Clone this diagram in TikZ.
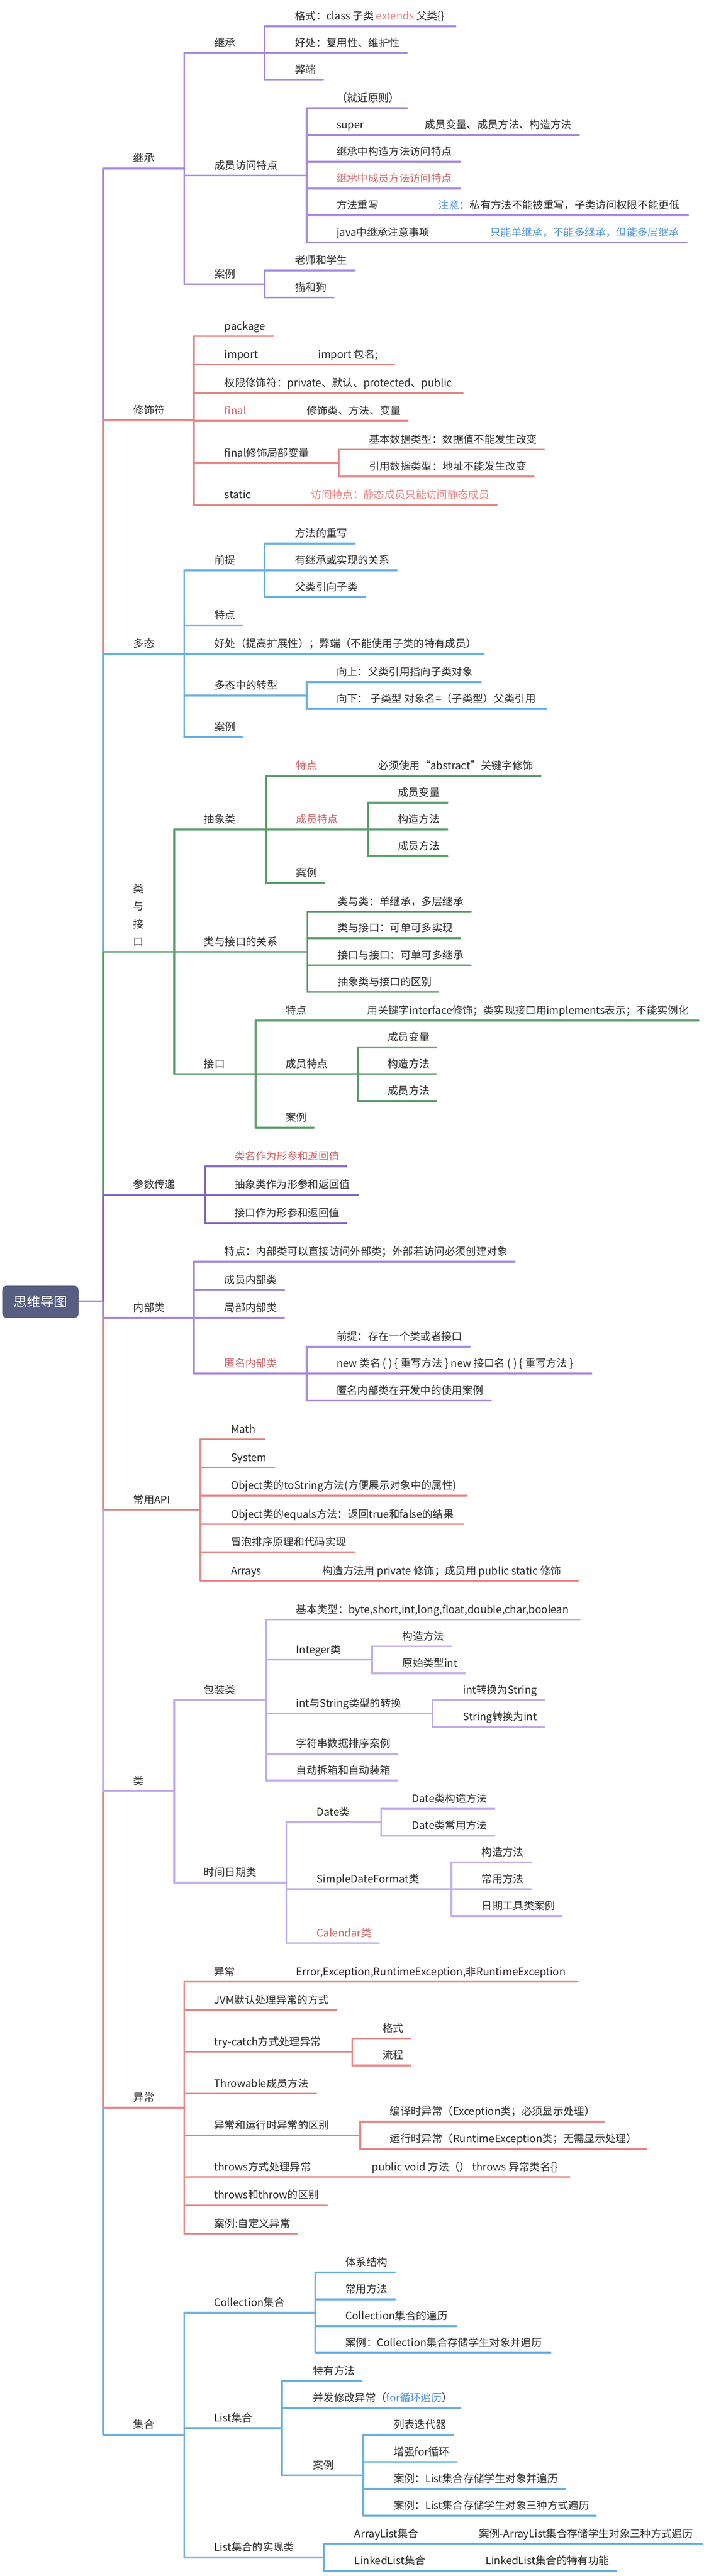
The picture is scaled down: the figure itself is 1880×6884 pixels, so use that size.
\documentclass[tikz,border=0pt]{standalone}
\usepackage{fontspec}
\setmainfont{Noto Sans CJK SC}
\definecolor{cpur}{HTML}{A68AE0}
\definecolor{csal}{HTML}{E68886}
\definecolor{cblu}{HTML}{6AB0E6}
\definecolor{cgrn}{HTML}{5E9E6C}
\definecolor{cpurtwo}{HTML}{8569C2}
\definecolor{clav}{HTML}{C3AEEA}
\definecolor{croot}{HTML}{575E82}
\definecolor{tred}{HTML}{CC6466}
\definecolor{tpink}{HTML}{E4807E}
\definecolor{tblu}{HTML}{4D92D2}
\definecolor{ttxt}{HTML}{2A2A2A}
\newcommand\MMnode[7]{\draw[ln,#2] (#3,#5) -- (#4,#5); \node[txt] (#1) at (#6,#5-17) {#7};}
\newcommand\MMbus[4]{\draw[ln,#1] (#2,#3) -- (#2,#4);}
\newcommand\MMtxt[4]{\node[txt] (#1) at (#2,#3-17) {#4};}
\begin{document}
\begin{tikzpicture}[x=1pt,y=-1pt,
  ln/.style={line width=5pt,line cap=round},
  trunk/.style={line width=5.5pt},
  txt/.style={anchor=base west,inner sep=0pt,text=ttxt,font=\fontsize{28pt}{34pt}\selectfont},
  vtxt/.style={anchor=center,inner sep=0pt,text=ttxt,font=\fontsize{28pt}{34pt}\selectfont}]
\fill[white] (0,0) rectangle (1880,6884);
\useasboundingbox (0,0) rectangle (1880,6884);

% trunk
\coordinate (t0) at (276,3478);
\draw[trunk,cpur] (276,450.5) -- (276,1123.7);
\draw[trunk,csal] (276,1123.7) -- (276,1747);
\draw[trunk,cblu] (276,1747) -- (276,2543.4);
\draw[trunk,cgrn] (276,2543.4) -- (276,3192.7);
\draw[trunk,cpurtwo] (276,3192.7) -- (t0);
\draw[trunk,cpur] (t0) -- (276,3521.7);
\draw[trunk,csal] (276,3521.7) -- (276,4034.6);
\draw[trunk,clav] (276,4034.6) -- (276,4787.1);
\draw[trunk,csal] (276,4787.1) -- (276,5632.2);
\draw[trunk,cblu] (276,5632.2) -- (276,6507);

% root
\node[fill=croot,rounded corners=12pt,minimum width=204pt,minimum height=86pt,inner sep=0pt,text=white,font=\fontsize{36pt}{40pt}\selectfont] (root) at (108,3479) {思维导图};
\draw[line width=6pt,cpur] (root.east |- t0) -- (t0);

% 继承
\MMbus{cpur}{492}{141.7}{759.4}
\MMnode{jc}{cpur}{276}{492}{450.5}{356}{继承}
\MMbus{cpur}{707}{70.3}{213.4}
\MMnode{jctwo}{cpur}{492}{707}{141.7}{573}{继承}
\MMnode{jca}{cpur}{707}{1217}{70.3}{788}{格式：class 子类 \textcolor{tpink}{extends} 父类\{\}}
\MMnode{jcb}{cpur}{707}{1087}{141.7}{788}{好处：复用性、维护性}
\MMnode{jcc}{cpur}{707}{863}{213.4}{788}{弊端}
\MMbus{cpur}{819}{289.3}{647.7}
\MMnode{cy}{cpur}{492}{819}{468.7}{573}{成员访问特点}
\MMnode{cya}{cpur}{819}{1087}{289.3}{899}{（就近原则）}
\MMnode{cyb}{cpur}{819}{1547}{360.7}{899}{super}
\MMtxt{cybx}{1135}{360.7}{成员变量、成员方法、构造方法}
\MMnode{cyc}{cpur}{819}{1229}{432.4}{899}{继承中构造方法访问特点}
\MMnode{cyd}{cpur}{819}{1229}{504.2}{899}{\textcolor{tred}{继承中成员方法访问特点}}
\MMnode{cye}{cpur}{819}{1838}{575.9}{899}{方法重写}
\MMtxt{cyex}{1171}{575.9}{\textcolor{tblu}{注意}：私有方法不能被重写，子类访问权限不能更低}
\MMnode{cyf}{cpur}{819}{1834}{647.7}{899}{java中继承注意事项}
\MMtxt{cyfx}{1310}{647.7}{\textcolor{tblu}{只能单继承，不能多继承，但能多层继承}}
\MMbus{cpur}{707}{723.1}{794.9}
\MMnode{al}{cpur}{492}{707}{759.4}{573}{案例}
\MMnode{ala}{cpur}{707}{948}{723.1}{788}{老师和学生}
\MMnode{alb}{cpur}{707}{892}{794.9}{788}{猫和狗}

% 修饰符
\MMbus{csal}{518}{898.5}{1349}
\MMnode{xs}{csal}{276}{518}{1123.7}{356}{修饰符}
\MMnode{xsa}{csal}{518}{731}{898.5}{600}{package}
\MMnode{xsb}{csal}{518}{1053}{973.9}{600}{import}
\MMtxt{xsbx}{850}{973.9}{import 包名;}
\MMnode{xsc}{csal}{518}{1236}{1050.1}{600}{权限修饰符：private、默认、protected、public}
\MMnode{xsd}{csal}{518}{1089}{1125.2}{600}{\textcolor{tred}{final}}
\MMtxt{xsdx}{819}{1125.2}{修饰类、方法、变量}
\MMbus{csal}{905}{1201.4}{1273.2}
\MMnode{xse}{csal}{518}{905}{1237.3}{600}{final修饰局部变量}
\MMnode{xsea}{csal}{905}{1454}{1201.4}{986}{基本数据类型：数据值不能发生改变}
\MMnode{xseb}{csal}{905}{1426}{1273.2}{986}{引用数据类型：地址不能发生改变}
\MMnode{xsf}{csal}{518}{1327}{1349}{600}{static}
\MMtxt{xsfx}{831}{1349}{\textcolor{tpink}{访问特点：静态成员只能访问静态成员}}

% 多态
\MMbus{cblu}{492}{1524}{1970}
\MMnode{dt}{cblu}{276}{492}{1747}{356}{多态}
\MMbus{cblu}{707}{1452.6}{1595.4}
\MMnode{dta}{cblu}{492}{707}{1524}{573}{前提}
\MMnode{dtaa}{cblu}{707}{948}{1452.6}{788}{方法的重写}
\MMnode{dtab}{cblu}{707}{1060}{1524}{788}{有继承或实现的关系}
\MMnode{dtac}{cblu}{707}{976}{1595.4}{788}{父类引向子类}
\MMnode{dtb}{cblu}{492}{647}{1671.5}{573}{特点}
\MMnode{dtc}{cblu}{492}{1292}{1747}{573}{好处（提高扩展性）；弊端（不能使用子类的特有成员）}
\MMbus{cblu}{819}{1822.8}{1894.2}
\MMnode{dtd}{cblu}{492}{819}{1858.7}{573}{多态中的转型}
\MMnode{dtda}{cblu}{819}{1285}{1822.8}{899}{向上：父类引用指向子类对象}
\MMnode{dtdb}{cblu}{819}{1460}{1894.2}{899}{向下： 子类型 对象名=（子类型）父类引用}
\MMnode{dte}{cblu}{492}{647}{1970}{573}{案例}

% 类与接口
\MMbus{cgrn}{465}{2216.8}{2869.8}
\draw[ln,cgrn] (276,2543.4) -- (465,2543.4);
\node[vtxt] (lyj1) at (370,2374) {类};
\node[vtxt] (lyj2) at (370,2422) {与};
\node[vtxt] (lyj3) at (370,2469) {接};
\node[vtxt] (lyj4) at (370,2517) {口};
\MMbus{cgrn}{711}{2073.6}{2359.9}
\MMnode{cx}{cgrn}{465}{711}{2216.8}{545}{抽象类}
\MMnode{cxa}{cgrn}{711}{1444}{2073.6}{791}{\textcolor{tred}{特点}}
\MMtxt{cxax}{1010}{2073.6}{必须使用“abstract”关键字修饰}
\MMbus{cgrn}{983}{2145.4}{2287.8}
\MMnode{cxb}{cgrn}{711}{983}{2216.8}{791}{\textcolor{tred}{成员特点}}
\MMnode{cxba}{cgrn}{983}{1195}{2145.4}{1063}{成员变量}
\MMnode{cxbb}{cgrn}{983}{1195}{2216.8}{1063}{构造方法}
\MMnode{cxbc}{cgrn}{983}{1195}{2287.8}{1063}{成员方法}
\MMnode{cxc}{cgrn}{711}{866}{2359.9}{791}{案例}
\MMbus{cgrn}{821}{2436.1}{2651}
\MMnode{gx}{cgrn}{465}{821}{2543.4}{545}{类与接口的关系}
\MMnode{gxa}{cgrn}{821}{1258}{2436.1}{902}{类与类：单继承，多层继承}
\MMnode{gxb}{cgrn}{821}{1230}{2507.5}{902}{类与接口：可单可多实现}
\MMnode{gxc}{cgrn}{821}{1258}{2579.3}{902}{接口与接口：可单可多继承}
\MMnode{gxd}{cgrn}{821}{1171}{2651}{902}{抽象类与接口的区别}
\MMbus{cgrn}{683}{2727.2}{3013.7}
\MMnode{jk}{cgrn}{465}{683}{2869.8}{545}{接口}
\MMnode{jka}{cgrn}{683}{1866}{2727.2}{763}{特点}
\MMtxt{jkax}{981}{2727.2}{用关键字interface修饰；类实现接口用implements表示；不能实例化}
\MMbus{cgrn}{956}{2798.6}{2941.9}
\MMnode{jkb}{cgrn}{683}{956}{2869.8}{763}{成员特点}
\MMnode{jkba}{cgrn}{956}{1165}{2798.6}{1036}{成员变量}
\MMnode{jkbb}{cgrn}{956}{1165}{2869.8}{1036}{构造方法}
\MMnode{jkbc}{cgrn}{956}{1165}{2941.9}{1036}{成员方法}
\MMnode{jkc}{cgrn}{683}{838}{3013.7}{763}{案例}

% 参数传递
\MMbus{cpurtwo}{548}{3117.3}{3268.5}
\MMnode{cs}{cpurtwo}{276}{548}{3192.7}{356}{参数传递}
\MMnode{csa}{cpurtwo}{548}{926}{3117.3}{627}{\textcolor{tred}{类名作为形参和返回值}}
\MMnode{csb}{cpurtwo}{548}{956}{3192.7}{627}{抽象类作为形参和返回值}
\MMnode{csc}{cpurtwo}{548}{926}{3268.5}{627}{接口作为形参和返回值}

% 内部类
\MMbus{cpur}{518}{3371.8}{3670.8}
\MMnode{nb}{cpur}{276}{518}{3522}{356}{内部类}
\MMnode{nba}{cpur}{518}{1375}{3371.8}{600}{特点：内部类可以直接访问外部类；外部若访问必须创建对象}
\MMnode{nbb}{cpur}{518}{759}{3447.8}{600}{成员内部类}
\MMnode{nbc}{cpur}{518}{759}{3522}{600}{局部内部类}
\MMbus{cpur}{819}{3599}{3742.6}
\MMnode{nbd}{cpur}{518}{819}{3670.8}{600}{\textcolor{tred}{匿名内部类}}
\MMnode{nbda}{cpur}{819}{1255}{3599}{899}{前提：存在一个类或者接口}
\MMnode{nbdb}{cpur}{819}{1580}{3670.8}{899}{new 类名 ( ) \{ 重写方法 \} new 接口名 ( ) \{ 重写方法 \}}
\MMnode{nbdc}{cpur}{819}{1312}{3742.6}{899}{匿名内部类在开发中的使用案例}

% 常用API
\MMbus{csal}{536}{3846.1}{4224.7}
\MMnode{api}{csal}{276}{536}{4034.6}{356}{常用API}
\MMnode{apia}{csal}{536}{707}{3846.1}{617}{Math}
\MMnode{apib}{csal}{536}{733}{3921.6}{617}{System}
\MMnode{apic}{csal}{536}{1247}{3997}{617}{Object类的toString方法(方便展示对象中的属性)}
\MMnode{apid}{csal}{536}{1239}{4073.1}{617}{Object类的equals方法：返回true和false的结果}
\MMnode{apie}{csal}{536}{946}{4148.5}{617}{冒泡排序原理和代码实现}
\MMnode{apif}{csal}{536}{1545}{4224.7}{617}{Arrays}
\MMtxt{apifx}{861}{4224.7}{构造方法用 private 修饰；成员用 public static 修饰}

% 类
\MMbus{clav}{465}{4542.8}{5030.9}
\MMnode{lei}{clav}{276}{465}{4787.1}{356}{类}
\MMbus{clav}{711}{4327.9}{4758.3}
\MMnode{bz}{clav}{465}{711}{4542.8}{545}{包装类}
\MMnode{bza}{clav}{711}{1549}{4327.9}{791}{基本类型：byte,short,int,long,float,double,char,boolean}
\MMbus{clav}{994}{4399.7}{4471.4}
\MMnode{bzb}{clav}{711}{994}{4435.2}{791}{Integer类}
\MMnode{bzba}{clav}{994}{1206}{4399.7}{1075}{构造方法}
\MMnode{bzbb}{clav}{994}{1242}{4471.4}{1075}{原始类型int}
\MMbus{clav}{1156}{4542.8}{4614.8}
\MMnode{bzc}{clav}{711}{1156}{4578.7}{791}{int与String类型的转换}
\MMnode{bzca}{clav}{1156}{1454}{4542.8}{1237}{int转换为String}
\MMnode{bzcb}{clav}{1156}{1454}{4614.8}{1237}{String转换为int}
\MMnode{bzd}{clav}{711}{1061}{4686.5}{791}{字符串数据排序案例}
\MMnode{bze}{clav}{711}{1061}{4758.3}{791}{自动拆箱和自动装箱}
\MMbus{clav}{765}{4869.6}{5192.4}
\MMnode{sj}{clav}{465}{765}{5030.9}{545}{时间日期类}
\MMbus{clav}{1018}{4833.8}{4905.5}
\MMnode{sja}{clav}{765}{1018}{4869.6}{846}{Date类}
\MMnode{sjaa}{clav}{1018}{1321}{4833.8}{1101}{Date类构造方法}
\MMnode{sjab}{clav}{1018}{1321}{4905.5}{1101}{Date类常用方法}
\MMbus{clav}{1206}{4977.3}{5120.4}
\MMnode{sjb}{clav}{765}{1206}{5049}{846}{SimpleDateFormat类}
\MMnode{sjba}{clav}{1206}{1418}{4977.3}{1287}{构造方法}
\MMnode{sjbb}{clav}{1206}{1418}{5049}{1287}{常用方法}
\MMnode{sjbc}{clav}{1206}{1501}{5120.4}{1287}{日期工具类案例}
\MMnode{sjc}{clav}{765}{1013}{5192.4}{846}{\textcolor{tred}{Calendar类}}

% 异常
\MMbus{csal}{492}{5295.6}{5969}
\MMnode{yc}{csal}{276}{492}{5632.2}{356}{异常}
\MMnode{yca}{csal}{492}{1544}{5295.6}{572}{异常}
\MMtxt{ycax}{791}{5295.6}{Error,Exception,RuntimeException,非RuntimeException}
\MMnode{ycb}{csal}{492}{899}{5371.4}{572}{JVM默认处理异常的方式}
\MMbus{csal}{941}{5447.2}{5519.4}
\MMnode{ycc}{csal}{492}{941}{5483.1}{572}{try-catch方式处理异常}
\MMnode{ycca}{csal}{941}{1097}{5447.2}{1022}{格式}
\MMnode{yccb}{csal}{941}{1097}{5519.4}{1022}{流程}
\MMnode{ycd}{csal}{492}{845}{5594.4}{572}{Throwable成员方法}
\MMbus{csal}{962}{5669.9}{5742.2}
\MMnode{yce}{csal}{492}{962}{5706.2}{572}{异常和运行时异常的区别}
\MMnode{ycea}{csal}{962}{1613}{5669.9}{1042}{编译时异常（Exception类；必须显示处理）}
\MMnode{yceb}{csal}{962}{1727}{5742.2}{1042}{运行时异常（RuntimeException类；无需显示处理）}
\MMnode{ycf}{csal}{492}{1522}{5817.7}{572}{throws方式处理异常}
\MMtxt{ycfx}{993}{5817.7}{public void 方法（） throws 异常类名\{\}}
\MMnode{ycg}{csal}{492}{874}{5893.1}{572}{throws和throw的区别}
\MMnode{ych}{csal}{492}{794}{5969}{572}{案例:自定义异常}

% 集合
\MMbus{cblu}{492}{6180.2}{6834}
\MMnode{jh}{cblu}{276}{492}{6507}{356}{集合}
\MMbus{cblu}{843}{6072.5}{6287.8}
\MMnode{jha}{cblu}{492}{843}{6180.2}{572}{Collection集合}
\MMnode{jhaa}{cblu}{843}{1055}{6072.5}{923}{体系结构}
\MMnode{jhab}{cblu}{843}{1055}{6144.3}{923}{常用方法}
\MMnode{jhac}{cblu}{843}{1219}{6216}{923}{Collection集合的遍历}
\MMnode{jhad}{cblu}{843}{1471}{6287.8}{923}{案例：Collection集合存储学生对象并遍历}
\MMbus{cblu}{753}{6363.4}{6614.6}
\MMnode{jhb}{cblu}{492}{753}{6488.8}{572}{List集合}
\MMnode{jhba}{cblu}{753}{966}{6363.4}{836}{特有方法}
\MMnode{jhbb}{cblu}{753}{1229}{6435.2}{836}{并发修改异常（\textcolor{tblu}{for循环遍历}）}
\MMbus{cblu}{971}{6507}{6722.6}
\MMnode{jhbc}{cblu}{753}{971}{6614.6}{836}{案例}
\MMnode{jhbca}{cblu}{971}{1211}{6507}{1052}{列表迭代器}
\MMnode{jhbcb}{cblu}{971}{1221}{6579.1}{1052}{增强for循环}
\MMnode{jhbcc}{cblu}{971}{1510}{6650.9}{1052}{案例：List集合存储学生对象并遍历}
\MMnode{jhbcd}{cblu}{971}{1592}{6722.6}{1052}{案例：List集合存储学生对象三种方式遍历}
\MMbus{cblu}{866}{6798.1}{6869.9}
\MMnode{jhc}{cblu}{492}{866}{6834}{572}{List集合的实现类}
\MMnode{jhca}{cblu}{866}{1876}{6798.1}{947}{ArrayList集合}
\MMtxt{jhcax}{1279}{6798.1}{案例-ArrayList集合存储学生对象三种方式遍历}
\MMnode{jhcb}{cblu}{866}{1646}{6869.9}{947}{LinkedList集合}
\MMtxt{jhcbx}{1297}{6869.9}{LinkedList集合的特有功能}
\end{tikzpicture}
\end{document}
